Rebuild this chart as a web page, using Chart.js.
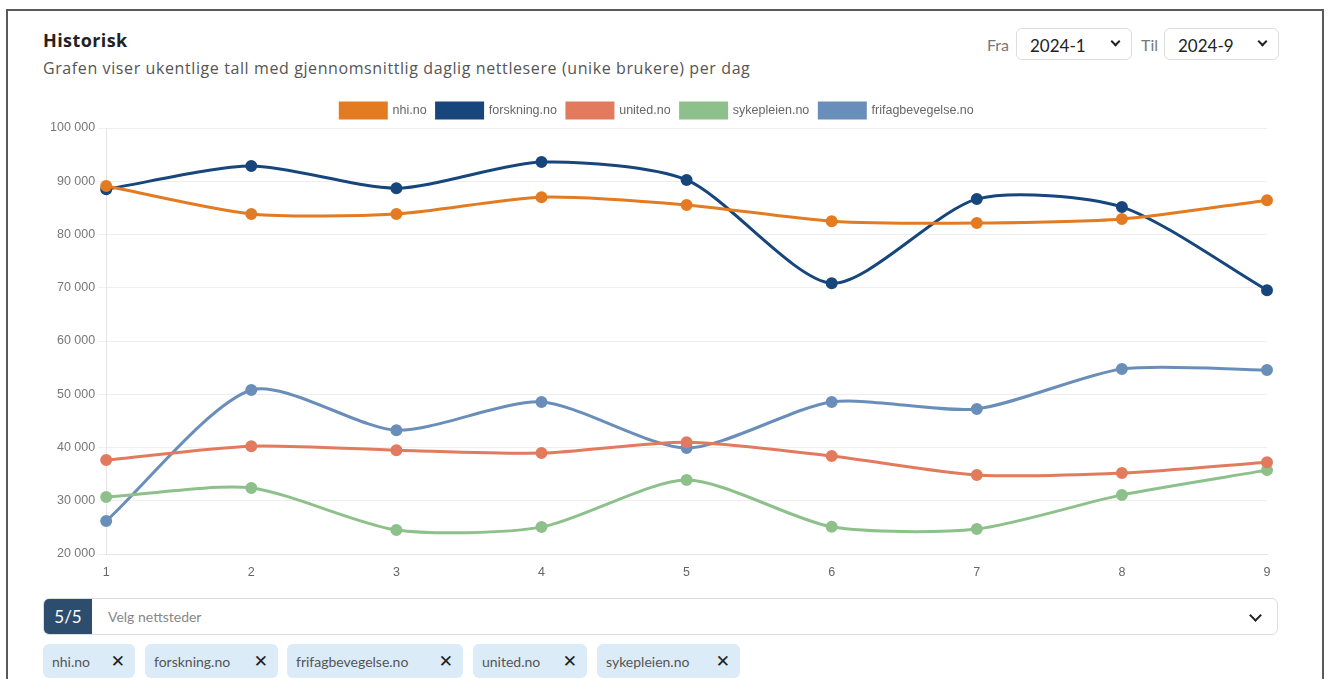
<!DOCTYPE html>
<html lang="no">
<head>
<meta charset="utf-8">
<title>Historisk</title>
<script src="https://cdn.jsdelivr.net/npm/chart.js@4.4.1/dist/chart.umd.min.js"></script>
<style>
    html, body {
        margin: 0;
        padding: 0;
        background: #fff;
        font-family: Lato, "Open Sans", sans-serif;
    }
    .card {
        position: absolute;
        left: 6px;
        top: 9px;
        width: 1318px;
        height: 700px;
        border: 2px solid #5a5a5a;
        border-bottom: none;
        box-sizing: border-box;
    }
    .title {
        position: absolute;
        left: 43px;
        top: 28px;
        font-family: "Open Sans", sans-serif;
        font-size: 18px;
        font-weight: bold;
        letter-spacing: 0.4px;
        color: #222;
    }
    .subtitle {
        position: absolute;
        left: 43px;
        top: 57px;
        font-family: "Open Sans", sans-serif;
        font-size: 16px;
        letter-spacing: 0.6px;
        color: #555;
    }
    .lbl {
        position: absolute;
        top: 35px;
        font-size: 16px;
        color: #777;
    }
    .sel {
        position: absolute;
        top: 28px;
        height: 32px;
        border: 1px solid #ddd;
        border-radius: 6px;
        box-sizing: border-box;
        font-size: 17px;
        color: #222;
        padding: 6px 0 0 13px;
    }
    .chev {
        position: absolute;
        right: 12px;
        top: 9px;
        width: 5px;
        height: 5px;
        border-right: 2px solid #222;
        border-bottom: 2px solid #222;
        transform: rotate(45deg);
    }
    .chev.big {
        right: 17px;
        top: 12px;
        width: 7px;
        height: 7px;
    }
    #chartWrap {
        position: absolute;
        left: 43px;
        top: 93px;
        width: 1235px;
        height: 490px;
    }
    .multi {
        position: absolute;
        left: 43px;
        top: 598px;
        width: 1235px;
        height: 37px;
        border: 1px solid #ddd;
        border-radius: 6px;
        box-sizing: border-box;
        overflow: hidden;
    }
    .count {
        position: absolute;
        left: 0;
        top: 0;
        width: 48px;
        height: 100%;
        background: #2d4d6e;
        color: #fff;
        font-size: 17px;
        text-align: center;
        line-height: 35px;
    }
    .placeholder {
        position: absolute;
        left: 64px;
        top: 9px;
        font-size: 14px;
        color: #888;
    }
    .tag {
        position: absolute;
        top: 644px;
        height: 34px;
        background: #dcebf8;
        border-radius: 6px;
        font-size: 14px;
        color: #555;
        line-height: 35px;
        padding-left: 9px;
        box-sizing: border-box;
    }
    .tag .x {
        position: absolute;
        right: 10px;
        top: 0;
        color: #222;
        font-size: 17px;
        font-family: "DejaVu Sans", sans-serif;
    }
</style>
</head>
<body>
<div class="card"></div>
<div class="title">Historisk</div>
<div class="subtitle">Grafen viser ukentlige tall med gjennomsnittlig daglig nettlesere (unike brukere) per dag</div>

<div class="lbl" style="left:987px">Fra</div>
<div class="sel" style="left:1016px;width:116px">2024-1<span class="chev"></span></div>
<div class="lbl" style="left:1141px">Til</div>
<div class="sel" style="left:1164px;width:115px">2024-9<span class="chev"></span></div>

<div id="chartWrap"><canvas id="chart"></canvas></div>

<div class="multi">
    <div class="count">5/5</div>
    <div class="placeholder">Velg nettsteder</div>
    <span class="chev big"></span>
</div>
<div id="tags"></div>

<script>
// Uker (x-akse)
const weeks = ['1', '2', '3', '4', '5', '6', '7', '8', '9'];

// Gjennomsnittlig daglige unike brukere per nettsted
const nhiValues = [89100, 83850, 83850, 87000, 85550, 82500, 82150, 82900, 86450];
const forskningValues = [88500, 92850, 88700, 93600, 90250, 70850, 86650, 85150, 69550];
const unitedValues = [37650, 40250, 39500, 38950, 41000, 38400, 34850, 35200, 37250];
const sykepleienValues = [30700, 32400, 24500, 25050, 33900, 25100, 24700, 31100, 35750];
const frifagValues = [26200, 50800, 43250, 48550, 39900, 48550, 47250, 54750, 54550];

const sites = ['nhi.no', 'forskning.no', 'united.no', 'sykepleien.no', 'frifagbevegelse.no'];
const siteColors = ['#e37b22', '#16467c', '#e27a5d', '#8ec08b', '#6a8eba'];
const siteValues = [nhiValues, forskningValues, unitedValues, sykepleienValues, frifagValues];

// Tagger under velgeren (rekkefølge som i bildet)
const tagNames = ['nhi.no', 'forskning.no', 'frifagbevegelse.no', 'united.no', 'sykepleien.no'];
const tagBoxes = [[43, 92], [145, 133], [287, 176], [473, 114], [597, 143]];

const tagsEl = document.getElementById('tags');
tagNames.forEach((name, i) => {
    const t = document.createElement('div');
    t.className = 'tag';
    t.style.left = tagBoxes[i][0] + 'px';
    t.style.width = tagBoxes[i][1] + 'px';
    t.innerHTML = name + '<span class="x">✕</span>';
    tagsEl.appendChild(t);
});

const formatNumber = v => String(v).replace(/\B(?=(\d{3})+(?!\d))/g, ' ');

const axisFont = { size: 12.5, family: 'Liberation Sans, Arial, sans-serif' };

const datasets = sites.map((name, i) => ({
    label: name,
    data: siteValues[i],
    borderColor: siteColors[i],
    backgroundColor: siteColors[i],
    pointBackgroundColor: siteColors[i],
    borderWidth: 3,
    pointRadius: 4.5,
    tension: 0.25
}));

new Chart(document.getElementById('chart'), {
    type: 'line',
    data: {
        labels: weeks,
        datasets: datasets
    },
    options: {
        responsive: true,
        maintainAspectRatio: false,
        animation: false,
        layout: {
            padding: { left: 4, right: 11, top: 0, bottom: 0 }
        },
        plugins: {
            legend: {
                labels: {
                    boxWidth: 46,
                    boxHeight: 15,
                    color: '#666',
                    font: { size: 12.5, family: 'Liberation Sans, Arial, sans-serif' }
                }
            },
            tooltip: { enabled: false }
        },
        scales: {
            x: {
                grid: { display: false },
                border: { color: '#e5e5e5' },
                ticks: {
                    color: '#666',
                    font: axisFont
                }
            },
            y: {
                min: 20000,
                max: 100000,
                grid: { color: '#eeeeee' },
                border: { color: '#e5e5e5' },
                ticks: {
                    stepSize: 10000,
                    color: '#777',
                    font: axisFont,
                    callback: value => formatNumber(value)
                }
            }
        }
    }
});
</script>
</body>
</html>
